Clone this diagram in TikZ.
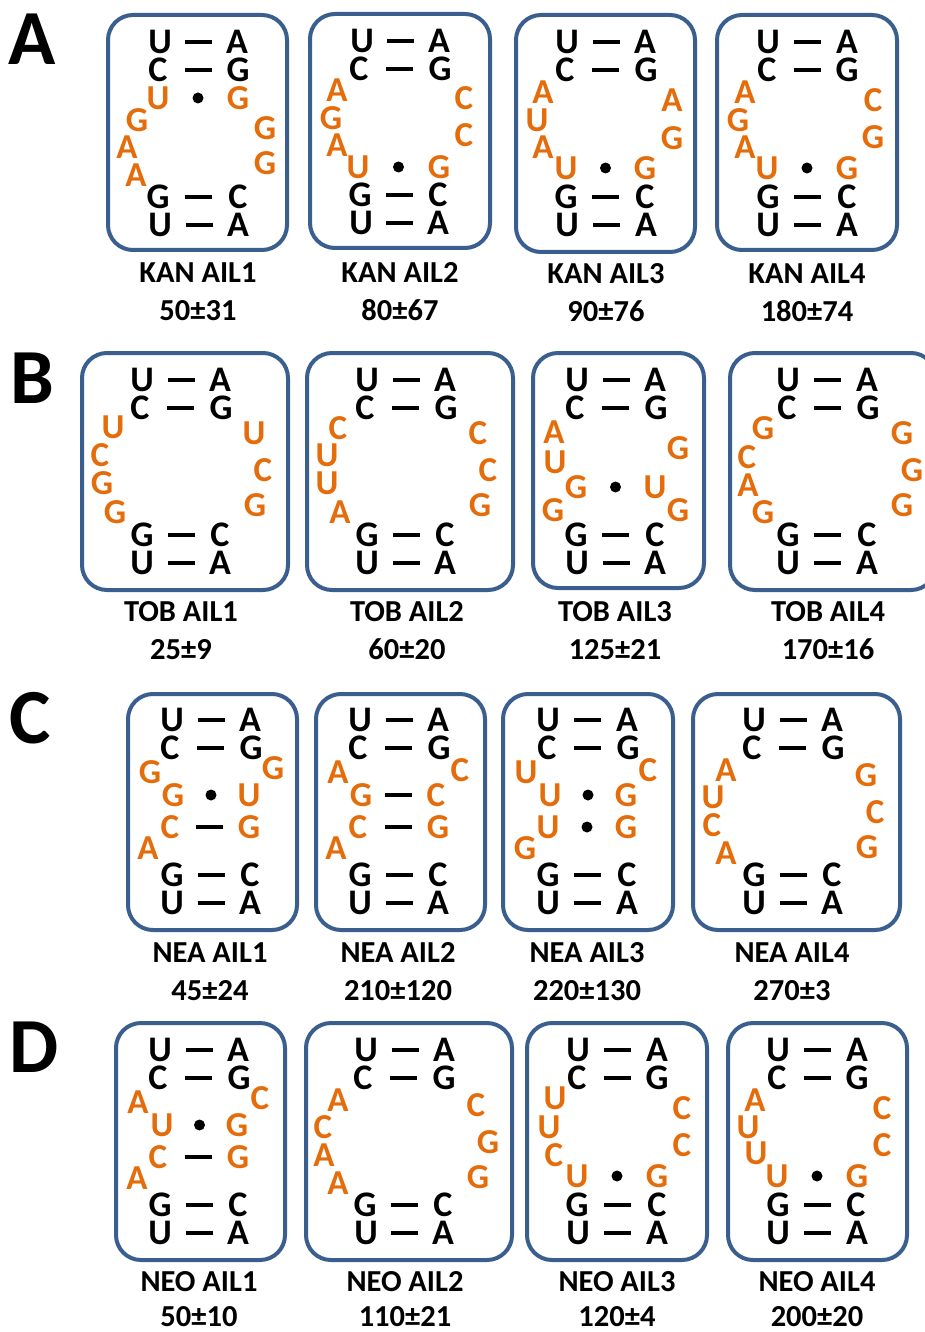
\documentclass[tikz,border=0pt]{standalone}
\usepackage{fontspec}
\setmainfont{Carlito}
\usetikzlibrary{calc,fit}
\definecolor{boxblue}{HTML}{3A5F8E}
\definecolor{rnaorange}{HTML}{E46C0A}
\newcounter{nn}
\tikzset{
  bl/.style={font=\fontsize{36}{36}\selectfont\bfseries, inner sep=0pt, text height=23pt, text depth=0pt, anchor=center, text=black},
  ol/.style={bl, font=\fontsize{35}{35}\selectfont\bfseries, text height=22.4pt, text=rnaorange},
  box/.style={draw=boxblue, line width=4pt, rounded corners=25pt, inner sep=0pt},
  bond/.style={line width=4.5pt, black},
  lab/.style={font=\fontsize{30.5}{30.5}\selectfont\bfseries, inner sep=0pt, text height=19.6pt, text depth=0pt, anchor=center},
  panel/.style={font=\fontsize{78}{78}\selectfont\bfseries, inner sep=0pt, text height=50pt, text depth=0pt, anchor=center}
}
\newcommand\bondd[2]{\draw[bond] ($(#1)!0.5!(#2)$) ++(-13.5,0) -- ++(27,0);}
\newcommand\bondo[2]{\fill ($(#1)!0.5!(#2)$) circle (5.5);}
\newcommand\bondn[2]{}
\newcommand\bpair[8]{\stepcounter{nn}%
  \node[#4] (p\arabic{nn}l) at (#1,#3) {#5};%
  \node[#6] (p\arabic{nn}r) at (#2,#3) {#7};%
  \csname bond#8\endcsname{p\arabic{nn}l}{p\arabic{nn}r}}
\newcommand\orn[3]{\stepcounter{nn}\node[ol] (o\arabic{nn}) at (#1,#2) {#3};}
\newcommand\pbox[5]{\node[box, fit={(#2,#3) (#4,#5)}] (#1) {};}
\newcommand\labs[5]{\node[lab] (#1n) at (#2,#3) {#4}; \node[lab] (#1v) at (#2,#3+38) {#5};}
\newcommand\labsD[5]{\node[lab] (#1n) at (#2,#3) {#4}; \node[lab] (#1v) at (#2,#3+35) {#5};}
\begin{document}
\begin{tikzpicture}[x=1pt,y=-1pt]
\useasboundingbox (0,0) rectangle (924,1332);
% panel letters
\node[panel] (LA) at (32,40) {A};
\node[panel] (LB) at (32,378) {B};
\node[panel] (LC) at (30,718) {C};
\node[panel] (LD) at (34,1047) {D};
% ---------- Row A ----------
% A1
\pbox{A1}{108}{15}{287}{250}
\bpair{160}{237}{42}{bl}{U}{bl}{A}{d}
\bpair{158}{238}{70}{bl}{C}{bl}{G}{d}
\bpair{158}{238}{98}{ol}{U}{ol}{G}{o}
\orn{137}{120}{G}\orn{127}{147}{A}\orn{136}{175}{A}
\orn{265}{128}{G}\orn{265}{163}{G}
\bpair{158}{238}{197}{bl}{G}{bl}{C}{d}
\bpair{160}{238}{225}{bl}{U}{bl}{A}{d}
\labs{lA1}{198}{273}{KAN AIL1}{50±31}
% A2
\pbox{A2}{310}{14}{490}{248}
\bpair{362}{439}{41}{bl}{U}{bl}{A}{d}
\bpair{359}{440}{69}{bl}{C}{bl}{G}{d}
\orn{337}{90}{A}\orn{331}{118}{G}\orn{337}{145}{A}
\orn{464}{98}{C}\orn{464}{135}{C}
\bpair{358}{439}{167}{ol}{U}{ol}{G}{o}
\bpair{360}{438}{195}{bl}{G}{bl}{C}{d}
\bpair{361}{438}{223}{bl}{U}{bl}{A}{d}
\labs{lA2}{400}{273}{KAN AIL2}{80±67}
% A3
\pbox{A3}{516}{15}{695}{252}
\bpair{567}{645}{42}{bl}{U}{bl}{A}{d}
\bpair{565}{646}{70}{bl}{C}{bl}{G}{d}
\orn{543}{92}{A}\orn{537}{120}{U}\orn{543}{147}{A}
\orn{672}{100}{A}\orn{672}{138}{G}
\bpair{566}{645}{168}{ol}{U}{ol}{G}{o}
\bpair{566}{645}{197}{bl}{G}{bl}{C}{d}
\bpair{567}{646}{225}{bl}{U}{bl}{A}{d}
\labs{lA3}{606}{274}{KAN AIL3}{90±76}
% A4
\pbox{A4}{717}{15}{897}{250}
\bpair{768}{847}{42}{bl}{U}{bl}{A}{d}
\bpair{767}{847}{70}{bl}{C}{bl}{G}{d}
\orn{745}{92}{A}\orn{738}{120}{G}\orn{745}{147}{A}
\orn{873}{100}{C}\orn{873}{137}{G}
\bpair{767}{847}{168}{ol}{U}{ol}{G}{o}
\bpair{768}{847}{197}{bl}{G}{bl}{C}{d}
\bpair{768}{847}{225}{bl}{U}{bl}{A}{d}
\labs{lA4}{807}{274}{KAN AIL4}{180±74}
% ---------- Row B ----------
% B1
\pbox{B1}{82}{353}{288}{590}
\bpair{142}{220}{380}{bl}{U}{bl}{A}{d}
\bpair{140}{221}{408}{bl}{C}{bl}{G}{d}
\orn{113}{427}{U}\orn{100}{455}{C}\orn{102}{483}{G}\orn{115}{512}{G}
\orn{254}{433}{U}\orn{263}{470}{C}\orn{255}{505}{G}
\bpair{142}{220}{535}{bl}{G}{bl}{C}{d}
\bpair{142}{220}{563}{bl}{U}{bl}{A}{d}
\labs{lB1}{181}{612}{TOB AIL1}{25±9}
% B2
\pbox{B2}{307}{353}{513}{590}
\bpair{367}{445}{380}{bl}{U}{bl}{A}{d}
\bpair{365}{446}{408}{bl}{C}{bl}{G}{d}
\orn{338}{428}{C}\orn{327}{455}{U}\orn{327}{483}{U}\orn{340}{512}{A}
\orn{478}{433}{C}\orn{488}{470}{C}\orn{480}{505}{G}
\bpair{367}{445}{535}{bl}{G}{bl}{C}{d}
\bpair{367}{445}{563}{bl}{U}{bl}{A}{d}
\labs{lB2}{407}{612}{TOB AIL2}{60±20}
% B3
\pbox{B3}{533}{353}{704}{588}
\bpair{577}{655}{380}{bl}{U}{bl}{A}{d}
\bpair{575}{656}{408}{bl}{C}{bl}{G}{d}
\orn{554}{432}{A}\orn{555}{462}{U}
\bpair{576}{655}{487}{ol}{G}{ol}{U}{o}
\orn{553}{510}{G}
\orn{678}{448}{G}\orn{678}{510}{G}
\bpair{576}{655}{535}{bl}{G}{bl}{C}{d}
\bpair{577}{655}{563}{bl}{U}{bl}{A}{d}
\labs{lB3}{615}{612}{TOB AIL3}{125±21}
% B4
\pbox{B4}{730}{353}{936}{590}
\bpair{788}{867}{380}{bl}{U}{bl}{A}{d}
\bpair{787}{868}{408}{bl}{C}{bl}{G}{d}
\orn{763}{428}{G}\orn{747}{457}{C}\orn{748}{485}{A}\orn{763}{512}{G}
\orn{902}{433}{G}\orn{912}{470}{G}\orn{902}{505}{G}
\bpair{788}{867}{535}{bl}{G}{bl}{C}{d}
\bpair{788}{867}{563}{bl}{U}{bl}{A}{d}
\labs{lB4}{828}{612}{TOB AIL4}{170±16}
% ---------- Row C ----------
% C1
\pbox{C1}{128}{694}{297}{930}
\bpair{172}{250}{720}{bl}{U}{bl}{A}{d}
\bpair{170}{251}{748}{bl}{C}{bl}{G}{d}
\orn{150}{772}{G}\orn{273}{768}{G}
\bpair{173}{249}{795}{ol}{G}{ol}{U}{o}
\bpair{170}{249}{827}{ol}{C}{ol}{G}{d}
\orn{148}{848}{A}
\bpair{172}{250}{875}{bl}{G}{bl}{C}{d}
\bpair{172}{250}{903}{bl}{U}{bl}{A}{d}
\labs{lC1}{210}{953}{NEA AIL1}{45±24}
% C2
\pbox{C2}{316}{694}{485}{930}
\bpair{360}{438}{720}{bl}{U}{bl}{A}{d}
\bpair{358}{439}{748}{bl}{C}{bl}{G}{d}
\orn{338}{772}{A}\orn{460}{770}{C}
\bpair{361}{436}{795}{ol}{G}{ol}{C}{d}
\bpair{358}{438}{827}{ol}{C}{ol}{G}{d}
\orn{336}{848}{A}
\bpair{360}{438}{875}{bl}{G}{bl}{C}{d}
\bpair{360}{438}{903}{bl}{U}{bl}{A}{d}
\labs{lC2}{398}{953}{NEA AIL2}{210±120}
% C3
\pbox{C3}{503}{694}{673}{930}
\bpair{548}{627}{720}{bl}{U}{bl}{A}{d}
\bpair{547}{628}{748}{bl}{C}{bl}{G}{d}
\orn{526}{772}{U}\orn{648}{770}{C}
\bpair{550}{626}{795}{ol}{U}{ol}{G}{o}
\bpair{548}{626}{827}{ol}{U}{ol}{G}{o}
\orn{525}{848}{G}
\bpair{548}{627}{875}{bl}{G}{bl}{C}{d}
\bpair{548}{627}{903}{bl}{U}{bl}{A}{d}
\labs{lC3}{587}{953}{NEA AIL3}{220±130}
% C4
\pbox{C4}{693}{694}{900}{930}
\bpair{754}{832}{720}{bl}{U}{bl}{A}{d}
\bpair{752}{833}{748}{bl}{C}{bl}{G}{d}
\orn{726}{770}{A}\orn{713}{797}{U}\orn{712}{825}{C}\orn{726}{853}{A}
\orn{866}{775}{G}\orn{875}{812}{C}\orn{867}{847}{G}
\bpair{754}{832}{875}{bl}{G}{bl}{C}{d}
\bpair{754}{832}{903}{bl}{U}{bl}{A}{d}
\labs{lC4}{792}{953}{NEA AIL4}{270±3}
% ---------- Row D ----------
% D1
\pbox{D1}{116}{1023}{285}{1260}
\bpair{160}{238}{1050}{bl}{U}{bl}{A}{d}
\bpair{158}{239}{1078}{bl}{C}{bl}{G}{d}
\orn{138}{1102}{A}\orn{260}{1098}{C}
\bpair{162}{237}{1125}{ol}{U}{ol}{G}{o}
\bpair{158}{238}{1157}{ol}{C}{ol}{G}{d}
\orn{137}{1178}{A}
\bpair{160}{238}{1205}{bl}{G}{bl}{C}{d}
\bpair{160}{238}{1233}{bl}{U}{bl}{A}{d}
\labsD{lD1}{199}{1282}{NEO AIL1}{50±10}
% D2
\pbox{D2}{306}{1023}{512}{1260}
\bpair{366}{444}{1050}{bl}{U}{bl}{A}{d}
\bpair{363}{444}{1078}{bl}{C}{bl}{G}{d}
\orn{338}{1100}{A}\orn{323}{1127}{C}\orn{324}{1155}{A}\orn{338}{1183}{A}
\orn{476}{1105}{C}\orn{488}{1142}{G}\orn{478}{1177}{G}
\bpair{365}{443}{1205}{bl}{G}{bl}{C}{d}
\bpair{366}{443}{1233}{bl}{U}{bl}{A}{d}
\labsD{lD2}{405}{1282}{NEO AIL2}{110±21}
% D3
\pbox{D3}{527}{1023}{707}{1260}
\bpair{578}{657}{1050}{bl}{U}{bl}{A}{d}
\bpair{577}{657}{1078}{bl}{C}{bl}{G}{d}
\orn{555}{1098}{U}\orn{549}{1127}{U}\orn{554}{1155}{C}
\orn{682}{1108}{C}\orn{682}{1145}{C}
\bpair{577}{657}{1176}{ol}{U}{ol}{G}{o}
\bpair{577}{657}{1205}{bl}{G}{bl}{C}{d}
\bpair{578}{657}{1233}{bl}{U}{bl}{A}{d}
\labsD{lD3}{617}{1282}{NEO AIL3}{120±4}
% D4
\pbox{D4}{728}{1023}{907}{1260}
\bpair{778}{857}{1050}{bl}{U}{bl}{A}{d}
\bpair{777}{857}{1078}{bl}{C}{bl}{G}{d}
\orn{755}{1100}{A}\orn{748}{1127}{U}\orn{756}{1153}{U}
\orn{882}{1108}{C}\orn{882}{1145}{C}
\bpair{777}{857}{1176}{ol}{U}{ol}{G}{o}
\bpair{778}{856}{1205}{bl}{G}{bl}{C}{d}
\bpair{778}{857}{1233}{bl}{U}{bl}{A}{d}
\labsD{lD4}{817}{1282}{NEO AIL4}{200±20}
\end{tikzpicture}
\end{document}
